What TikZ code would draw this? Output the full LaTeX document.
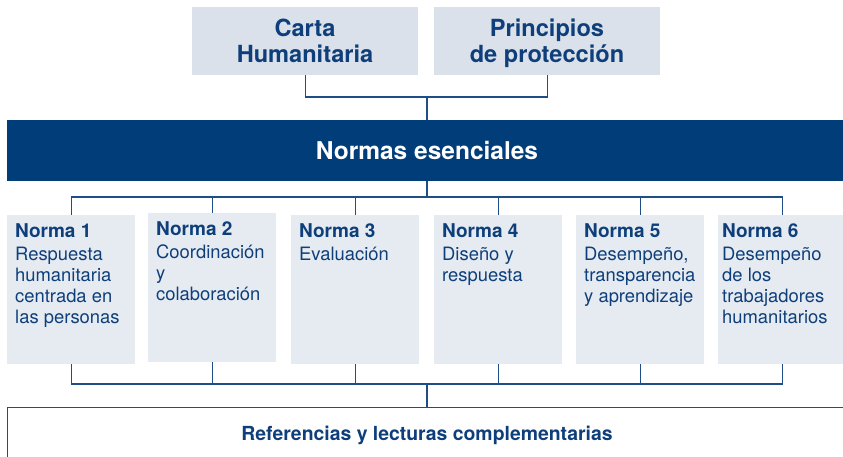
\documentclass[tikz,border=0pt]{standalone}
\usepackage{fontspec}
\setmainfont{TeX Gyre Heros}
\definecolor{navy}{RGB}{0,61,121}
\definecolor{txtblue}{RGB}{14,63,122}
\definecolor{linec}{RGB}{31,78,135}
\definecolor{normfill}{RGB}{230,235,242}
\definecolor{topfill}{RGB}{218,225,234}
\newcommand{\normtitle}[1]{{\fontsize{19}{21}\selectfont\bfseries #1}}
\begin{document}
\begin{tikzpicture}[x=1pt,y=-1pt,
  topbox/.style={fill=topfill, minimum width=226pt, minimum height=68pt, inner sep=0pt, anchor=north west},
  topname/.style={font=\fontsize{23.6}{26}\selectfont\bfseries, text=txtblue, align=center, inner sep=0pt},
  normbox/.style={fill=normfill, minimum width=128pt, minimum height=149pt, inner sep=0pt, anchor=north west},
  normtext/.style={font=\fontsize{18.4}{21}\selectfont, text=txtblue, align=left, inner sep=0pt, anchor=base west},
  conn/.style={draw=linec, line width=1.4pt}]
\useasboundingbox (0,0) rectangle (843,457);

% top boxes
\node[topbox] (carta) at (192,7) {};
\node[topbox] (princ) at (434,7) {};
\node[topname, anchor=base] (cartat) at (305,63) {Carta\\Humanitaria};
\node[topname, anchor=base] (princt) at (547,63) {Principios\\de protección};

% banner
\node[fill=navy, minimum width=850pt, minimum height=61pt, inner sep=0pt, anchor=north west] (banner) at (7,120) {};
\node[font=\fontsize{24.5}{26}\selectfont\bfseries, text=white, inner sep=0pt, anchor=base] (bannert) at (427,160) {Normas esenciales};

% norm boxes
\node[normbox] (n1) at (7,215) {};
\node[normbox] (n2) at (148,213) {};
\node[normbox] (n3) at (291,215) {};
\node[normbox] (n4) at (434,215) {};
\node[normbox] (n5) at (576,215) {};
\node[normbox] (n6) at (718,215) {};

\node[normtext] (t1) at (15,323) {\normtitle{Norma 1}\\[2pt]Respuesta\\humanitaria\\centrada en\\las personas};
\node[normtext] (t2) at (156,300) {\normtitle{Norma 2}\\[2pt]Coordinación\\y\\colaboración};
\node[normtext] (t3) at (299,260) {\normtitle{Norma 3}\\[2pt]Evaluación};
\node[normtext] (t4) at (442,281) {\normtitle{Norma 4}\\[2pt]Diseño y\\respuesta};
\node[normtext] (t5) at (584,302) {\normtitle{Norma 5}\\[2pt]Desempeño,\\transparencia\\y aprendizaje};
\node[normtext] (t6) at (722,323) {\normtitle{Norma 6}\\[2pt]Desempeño\\de los\\trabajadores\\humanitarios};

% bottom box
\node[draw=linec, line width=1.4pt, minimum width=860pt, minimum height=70pt, inner sep=0pt, anchor=north west] (refs) at (7,407) {};
\node[font=\fontsize{19.4}{21}\selectfont\bfseries, text=txtblue, inner sep=0pt, anchor=base] (refst) at (427,440) {Referencias y lecturas complementarias};

% connectors
\coordinate (j1) at (427,97);
\coordinate (j2) at (427,197);
\coordinate (j3) at (427,384);
\draw[conn] (carta.south) |- (j1) -| (princ.south);
\draw[conn] (j1) -- (j1 |- banner.north);
\draw[conn] (j2 |- banner.south) -- (j2);
\draw[conn] (n1.north) |- (j2) -| (n6.north);
\draw[conn] (n2.north) -- (n2.north |- j2);
\draw[conn] (n3.north) -- (n3.north |- j2);
\draw[conn] (n4.north) -- (n4.north |- j2);
\draw[conn] (n5.north) -- (n5.north |- j2);
\draw[conn] (n1.south) |- (j3) -| (n6.south);
\draw[conn] (n2.south) -- (n2.south |- j3);
\draw[conn] (n3.south) -- (n3.south |- j3);
\draw[conn] (n4.south) -- (n4.south |- j3);
\draw[conn] (n5.south) -- (n5.south |- j3);
\draw[conn] (j3) -- (j3 |- refs.north);
\end{tikzpicture}
\end{document}
